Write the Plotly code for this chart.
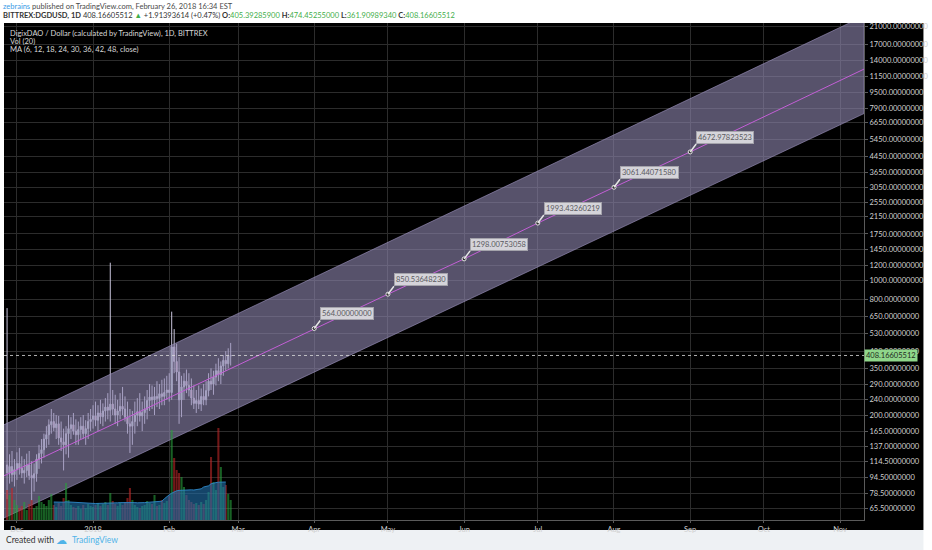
import numpy as np
import pandas as pd
import plotly.graph_objects as go

# ---- data ----
dates = pd.date_range("2017-11-27", "2018-02-26", freq="D")

opens = [110, 100, 108, 98, 104, 112, 106, 100, 103, 110,
         97, 94, 99, 118, 126, 132, 150, 158, 178, 185,
         172, 180, 152, 145, 140, 160, 170, 178, 165, 158,
         168, 175, 160, 170, 185, 190, 198, 188, 205, 196,
         210, 220, 212, 228, 215, 200, 210, 222, 215, 195,
         180, 175, 185, 200, 208, 198, 206, 214, 238, 248,
         240, 250, 244, 258, 250, 262, 270, 262, 452, 380,
         335, 240, 280, 300, 285, 270, 245, 230, 238, 228,
         250, 240, 268, 300, 290, 315, 340, 325, 360, 385,
         370, 405.39285900]
highs = [720, 125, 130, 118, 128, 135, 122, 118, 126, 130,
         115, 112, 125, 140, 150, 160, 175, 190, 215, 205,
         200, 198, 185, 170, 175, 200, 195, 205, 190, 185,
         195, 200, 188, 205, 215, 225, 235, 225, 240, 230,
         245, 260, 1240, 270, 255, 240, 260, 280, 250, 235,
         215, 210, 235, 245, 260, 235, 250, 270, 290, 285,
         280, 300, 290, 305, 310, 320, 330, 690, 560, 470,
         400, 320, 330, 345, 330, 310, 285, 270, 285, 275,
         290, 300, 330, 350, 340, 370, 395, 380, 410, 430,
         445, 474.45255000]
lows = [73, 88, 90, 85, 92, 98, 94, 88, 95, 92,
        72, 80, 90, 105, 112, 120, 135, 140, 160, 165,
        150, 140, 130, 103, 125, 120, 150, 158, 140, 140,
        150, 150, 140, 150, 165, 170, 175, 165, 180, 175,
        185, 190, 185, 200, 180, 175, 190, 200, 185, 160,
        127, 140, 160, 175, 185, 165, 180, 190, 210, 215,
        200, 220, 215, 225, 225, 240, 235, 240, 330, 300,
        180, 195, 240, 260, 250, 225, 215, 205, 215, 210,
        225, 225, 250, 270, 255, 285, 300, 290, 320, 340,
        350, 361.90989340]
closes = [100, 108, 98, 104, 112, 106, 100, 103, 110, 97,
          94, 99, 118, 126, 132, 150, 158, 178, 185, 172,
          180, 152, 145, 140, 160, 170, 178, 165, 158, 168,
          175, 160, 170, 185, 190, 198, 188, 205, 196, 210,
          220, 212, 228, 215, 200, 210, 222, 215, 195, 180,
          175, 185, 200, 208, 198, 206, 214, 238, 248, 240,
          250, 244, 258, 250, 262, 270, 262, 452, 380, 335,
          240, 280, 300, 285, 270, 245, 230, 238, 228, 250,
          240, 268, 300, 290, 315, 340, 325, 360, 385, 370,
          405.39, 408.16605512]

volumes = [300, 250, 320, 200, 150, 120, 140, 180, 100, 160,
           200, 120, 140, 240, 180, 160, 140, 200, 260, 150,
           130, 170, 140, 220, 370, 200, 150, 130, 120, 140,
           110, 150, 120, 160, 140, 130, 150, 170, 140, 160,
           180, 150, 270, 190, 160, 140, 170, 150, 180, 220,
           320, 200, 150, 130, 120, 140, 150, 190, 170, 160,
           250, 140, 150, 200, 170, 190, 240, 900, 620, 500,
           470, 430, 330, 250, 200, 180, 160, 170, 150, 180,
           160, 200, 280, 630, 380, 300, 920, 530, 330, 350,
           260, 200]
vol_ma = [None] * 19 + [
    180, 178, 176, 175, 178, 182, 180, 178, 176, 174, 172,
    170, 168, 168, 166, 165, 164, 165, 166, 166, 165,
    166, 168, 170, 171, 170, 172, 174, 175, 176, 178,
    176, 175, 174, 172, 171, 172, 174, 176, 178, 180,
    182, 184, 186, 188, 212, 235, 252, 268, 282, 292,
    296, 298, 300, 300, 300, 302, 300, 302, 305, 312,
    330, 340, 342, 362, 372, 374, 378, 380, 382, 380]

# parallel channel drawing (date, price)
chan_dates = ["2017-11-25 18:00", "2018-11-10 18:00"]
chan_upper = [178, 23800]
chan_lower = [58.3, 7400]

# projected path with labelled points
path_dates = ["2017-11-25 18:00", "2018-04-01", "2018-05-01", "2018-06-01",
              "2018-07-01", "2018-08-01", "2018-09-01", "2018-11-10 18:00"]
path_values = [96.6, 564.0, 850.53648230, 1298.00753058,
               1993.43260219, 3061.44071580, 4672.97823523, 12600]
label_idx = [1, 2, 3, 4, 5, 6]

y_ticks = [21000, 17000, 14000, 11500, 9500, 7900, 6650, 5450, 4450, 3650,
           3050, 2550, 2150, 1750, 1450, 1200, 1000, 800, 650, 530, 430,
           350, 290, 240, 200, 165, 137, 114.5, 94.5, 78.5, 65.5]
month_ticks = ["2017-12-01", "2018-01-01", "2018-02-01", "2018-03-01",
               "2018-04-01", "2018-05-01", "2018-06-01", "2018-07-01",
               "2018-08-01", "2018-09-01", "2018-10-01", "2018-11-01"]
month_labels = ["Dec", "2018", "Feb", "Mar", "Apr", "May", "Jun", "Jul",
                "Aug", "Sep", "Oct", "Nov"]

last_price = closes[-1]

FONT = "Lato"
W, H = 932, 550
L, R, T, B = 4, 60, 23, 30
PW, PH = W - L - R, H - T - B


def px_x(x):
    return (x - L) / PW


def px_y(y):
    return 1 - (y - T) / PH


fig = go.Figure()

# channel
fig.add_trace(go.Scatter(
    x=chan_dates + chan_dates[::-1],
    y=chan_upper + chan_lower[::-1],
    fill="toself", fillcolor="rgba(145,137,178,0.6)",
    line=dict(color="rgba(160,150,195,0.6)", width=1),
    mode="lines", hoverinfo="skip", showlegend=False))

# candles
fig.add_trace(go.Candlestick(
    x=dates, open=opens, high=highs, low=lows, close=closes,
    increasing=dict(line=dict(color="#c9c5dc", width=1), fillcolor="#a6f0c2"),
    decreasing=dict(line=dict(color="#c9c5dc", width=1), fillcolor="#fb9fc3"),
    whiskerwidth=0, showlegend=False))

# projected path
fig.add_trace(go.Scatter(
    x=path_dates, y=path_values, mode="lines",
    line=dict(color="#c35fd6", width=1), hoverinfo="skip", showlegend=False))
fig.add_trace(go.Scatter(
    x=[path_dates[i] for i in label_idx], y=[path_values[i] for i in label_idx],
    mode="markers", marker=dict(size=4, color="#2a2a2a", line=dict(color="#e8e8e8", width=1)),
    hoverinfo="skip", showlegend=False))

# current price line
fig.add_trace(go.Scatter(
    x=[chan_dates[0], chan_dates[1]], y=[last_price, last_price], mode="lines",
    line=dict(color="rgba(220,220,220,0.8)", width=1, dash="dot"),
    hoverinfo="skip", showlegend=False))

# volume
vol_colors = ["rgba(40,160,60,0.6)" if c >= o else "rgba(190,40,40,0.6)"
              for o, c in zip(opens, closes)]
fig.add_trace(go.Bar(x=dates, y=volumes, marker=dict(color=vol_colors, line_width=0),
                     yaxis="y2", showlegend=False, hoverinfo="skip"))
fig.add_trace(go.Scatter(x=dates, y=vol_ma, yaxis="y2", mode="lines", fill="tozeroy",
                         fillcolor="rgba(35,115,175,0.6)",
                         line=dict(color="rgba(45,135,200,0.9)", width=1),
                         showlegend=False, hoverinfo="skip"))

annotations = []
for i in label_idx:
    annotations.append(dict(
        x=path_dates[i], y=np.log10(path_values[i]), xref="x", yref="y",
        text="%.8f" % path_values[i], showarrow=True, arrowhead=0,
        arrowcolor="#e6e6e6", arrowwidth=1.5, ax=6, ay=-8,
        xanchor="left", yanchor="bottom",
        bgcolor="#d5d4da", bordercolor="#a4a3ab", borderwidth=1, borderpad=1,
        font=dict(family=FONT, size=7.5, color="#5a5a60")))

# price label on axis
annotations.append(dict(
    x=1, y=np.log10(last_price), xref="paper", yref="y", xanchor="left", yanchor="middle",
    text="%.8f" % last_price, showarrow=False, bgcolor="#8fd68a",
    font=dict(family=FONT, size=7.5, color="#1e2a1e"), borderpad=1))

# legend text inside pane
for k, txt in enumerate(["DigixDAO / Dollar (calculated by TradingView), 1D, BITTREX",
                         "Vol (20)", "MA (6, 12, 18, 24, 30, 36, 42, 48, close)"]):
    annotations.append(dict(
        x=px_x(8), y=px_y(33 + 8 * k), xref="paper", yref="paper",
        xanchor="left", yanchor="middle", text=txt, showarrow=False,
        font=dict(family=FONT, size=7.5, color="#d8d8d8")))

# header
annotations.append(dict(
    x=px_x(1), y=px_y(6), xref="paper", yref="paper", xanchor="left", yanchor="middle",
    showarrow=False, font=dict(family=FONT, size=7.5, color="#4a4a4a"),
    text="<span style='color:#3a9be6'>zebrains</span> published on TradingView.com, "
         "February 26, 2018 16:34 EST"))
G = "#3fae4a"
annotations.append(dict(
    x=px_x(1), y=px_y(15.5), xref="paper", yref="paper", xanchor="left", yanchor="middle",
    showarrow=False, font=dict(family=FONT, size=7.5, color="#333333"),
    text="<b>BITTREX:DGDUSD, 1D</b> 408.16605512 <span style='color:%s'>▲</span> "
         "+1.91393614 (+0.47%%) <b>O:</b><span style='color:%s'>405.39285900</span> "
         "<b>H:</b><span style='color:%s'>474.45255000</span> "
         "<b>L:</b><span style='color:%s'>361.90989340</span> "
         "<b>C:</b><span style='color:%s'>408.16605512</span>" % (G, G, G, G, G)))

# footer
annotations.append(dict(
    x=px_x(4), y=px_y(540), xref="paper", yref="paper", xanchor="left", yanchor="middle",
    showarrow=False, text="Created with", font=dict(family=FONT, size=8.5, color="#333333")))
annotations.append(dict(
    x=px_x(54), y=px_y(540), xref="paper", yref="paper", xanchor="left", yanchor="middle",
    showarrow=False, text="☁", font=dict(family="DejaVu Sans", size=11, color="#4fb3e8")))
annotations.append(dict(
    x=px_x(71), y=px_y(540), xref="paper", yref="paper", xanchor="left", yanchor="middle",
    showarrow=False, text="TradingView", font=dict(family=FONT, size=8.5, color="#4fb3e8")))

shapes = [
    dict(type="rect", xref="paper", yref="paper", x0=0, x1=px_x(W), y0=px_y(530), y1=1,
         fillcolor="#000000", line_width=0, layer="below"),
    dict(type="rect", xref="paper", yref="paper", x0=px_x(0), x1=px_x(W), y0=px_y(H), y1=px_y(530),
         fillcolor="#eef1f4", line_width=0, layer="below"),
]

fig.update_layout(
    width=W, height=H, margin=dict(l=L, r=R, t=T, b=B),
    paper_bgcolor="white", plot_bgcolor="black",
    font=dict(family=FONT, size=7.5, color="#cfcfcf"),
    showlegend=False, annotations=annotations, shapes=shapes,
    bargap=0.15,
    xaxis=dict(type="date", range=chan_dates, rangeslider=dict(visible=False),
               tickvals=month_ticks, ticktext=month_labels,
               showgrid=True, gridcolor="#2c2c2c", gridwidth=1,
               showline=True, linecolor="#5a5a5a", ticks="outside", ticklen=2,
               tickcolor="#5a5a5a", tickfont=dict(size=7.5, color="#d0d0d0"),
               zeroline=False, fixedrange=True),
    yaxis=dict(type="log", range=[np.log10(56.9), np.log10(21890)], side="right",
               tickvals=y_ticks, ticktext=["%.8f" % v for v in y_ticks],
               showgrid=True, gridcolor="#2c2c2c", gridwidth=1,
               showline=True, linecolor="#5a5a5a", ticks="outside", ticklen=3,
               tickcolor="#5a5a5a", tickfont=dict(size=7.5, color="#d0d0d0"),
               zeroline=False, fixedrange=True),
    yaxis2=dict(overlaying="y", range=[0, 4970], visible=False, fixedrange=True),
)

# the page body has a default 8px margin; drop it so the chart sits at the corner
fig.write_html("out.html", config={"displayModeBar": False},
               post_script="document.body.style.margin='0px';")
